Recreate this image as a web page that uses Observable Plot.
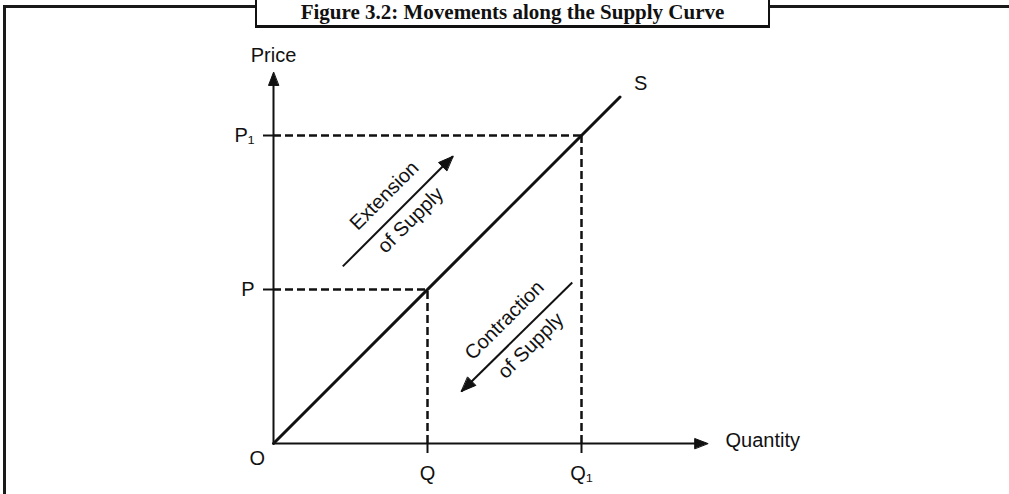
<!DOCTYPE html>
<html>
<head>
<meta charset="utf-8">
<script src="https://cdn.jsdelivr.net/npm/d3@7"></script>
<script src="https://cdn.jsdelivr.net/npm/@observablehq/plot@0.6"></script>
<style>
  body { margin: 0; background: #fff; }
  #wrap { position: relative; width: 1009px; height: 494px; overflow: hidden; background: #fff; }
  #frame { position: absolute; left: 3px; top: 5px; width: 1100px; height: 600px;
           border-top: 3px solid #1a1a1a; border-left: 3px solid #1a1a1a; }
  #chart { position: absolute; left: 0; top: 0; }
  #title { position: absolute; left: 255px; top: 0; width: 511px; height: 25px;
           border: 2px solid #111; border-top: none; border-bottom-width: 3px; background: #fff;
           font: bold 21px "Liberation Serif", "DejaVu Serif", serif; color: #111;
           text-align: center; line-height: 24px; white-space: nowrap; }
</style>
</head>
<body>
<div id="wrap">
  <div id="frame"></div>
  <div id="chart"></div>
  <div id="title">Figure 3.2: Movements along the Supply Curve</div>
</div>
<script>
// ---- data ----
const supplyQ = [0, 4.5];
const supplyP = [0, 4.5];
const priceTicks = [2, 4];
const priceLabels = ["P", "P\u2081"];
const qtyTicks = [2, 4];
const qtyLabels = ["Q", "Q\u2081"];
const eqQ = [2, 4];
const eqP = [2, 4];
const axisEndQ = 5.64;
const axisEndP = 4.82;
const moveNames = ["extension", "contraction"];
const moveFromQ = [0.9, 3.88];
const moveFromP = [2.3, 2.09];
const moveToQ = [2.33, 2.44];
const moveToP = [3.73, 0.675];
const noteText = ["Extension", "of Supply", "Contraction", "of Supply"];
const noteQ = [1.44, 1.78, 3.0, 3.34];
const noteP = [3.22, 2.90, 1.60, 1.27];

// ---- derived tables ----
const supply = supplyQ.map((q, i) => ({q, p: supplyP[i]}));
const eq = eqQ.map((q, i) => ({q, p: eqP[i]}));
const moves = moveNames.map((n, i) => ({n, x1: moveFromQ[i], y1: moveFromP[i], x2: moveToQ[i], y2: moveToP[i]}));
const notes = noteText.map((t, i) => ({t, q: noteQ[i], p: noteP[i]}));

// filled arrow heads (units are isotropic: 77px per unit on both axes)
function head(id, x1, y1, x2, y2, len, half) {
  const dx = x2 - x1, dy = y2 - y1, L = Math.hypot(dx, dy);
  const ux = dx / L, uy = dy / L, bx = x2 - ux * len, by = y2 - uy * len;
  return [
    {id, x: x2, y: y2},
    {id, x: bx - uy * half, y: by + ux * half},
    {id, x: bx + uy * half, y: by - ux * half}
  ];
}
const heads = [
  ...moves.flatMap(m => head(m.n, m.x1, m.y1, m.x2, m.y2, 0.19, 0.075)),
  ...head("xaxis", 0, 0, axisEndQ, 0, 0.17, 0.065),
  ...head("yaxis", 0, 0, 0, axisEndP, 0.17, 0.065)
];

const plot = Plot.plot({
  width: 1009,
  height: 494,
  marginLeft: 273,
  marginBottom: 51,
  marginRight: 43,
  marginTop: 58,
  x: {domain: [0, 9]},
  y: {domain: [0, 5]},
  style: {fontFamily: '"Liberation Sans", Arial, sans-serif', fontSize: "20px", color: "#111", background: "transparent", overflow: "visible"},
  marks: [
    Plot.ruleY(eq, {y: "p", x1: 0, x2: "q", strokeWidth: 2.5, strokeDasharray: "8,4"}),
    Plot.ruleX(eq, {x: "q", y1: 0, y2: "p", strokeWidth: 2.5, strokeDasharray: "8,4"}),
    Plot.ruleX([0], {y1: 0, y2: axisEndP - 0.1, strokeWidth: 2}),
    Plot.ruleY([0], {x1: 0, x2: axisEndQ - 0.1, strokeWidth: 2}),
    Plot.axisY(priceTicks, {tickSize: 10, tickPadding: 9, strokeWidth: 2, fontSize: 20, label: null,
      tickFormat: d => priceLabels[priceTicks.indexOf(d)]}),
    Plot.axisX(qtyTicks, {tickSize: 10, tickPadding: 12, strokeWidth: 2, fontSize: 20, label: null,
      tickFormat: d => qtyLabels[qtyTicks.indexOf(d)]}),
    Plot.line(supply, {x: "q", y: "p", strokeWidth: 3}),
    Plot.link(moves, {x1: "x1", y1: "y1", x2: "x2", y2: "y2", strokeWidth: 2}),
    Plot.line(heads, {x: "x", y: "y", z: "id", fill: "#111", stroke: "#111", strokeWidth: 1, curve: "linear-closed"}),
    Plot.text(notes, {x: "q", y: "p", text: "t", rotate: -45, fontSize: 20}),
    Plot.text(["Price"], {x: 0, y: 5.04, fontSize: 20}),
    Plot.text(["Quantity"], {x: 5.87, y: 0.04, textAnchor: "start", fontSize: 20}),
    Plot.text(["S"], {x: 4.77, y: 4.68, fontSize: 20}),
    Plot.text(["O"], {x: -0.21, y: -0.195, fontSize: 20})
  ]
});
document.getElementById("chart").appendChild(plot);
</script>
</body>
</html>
